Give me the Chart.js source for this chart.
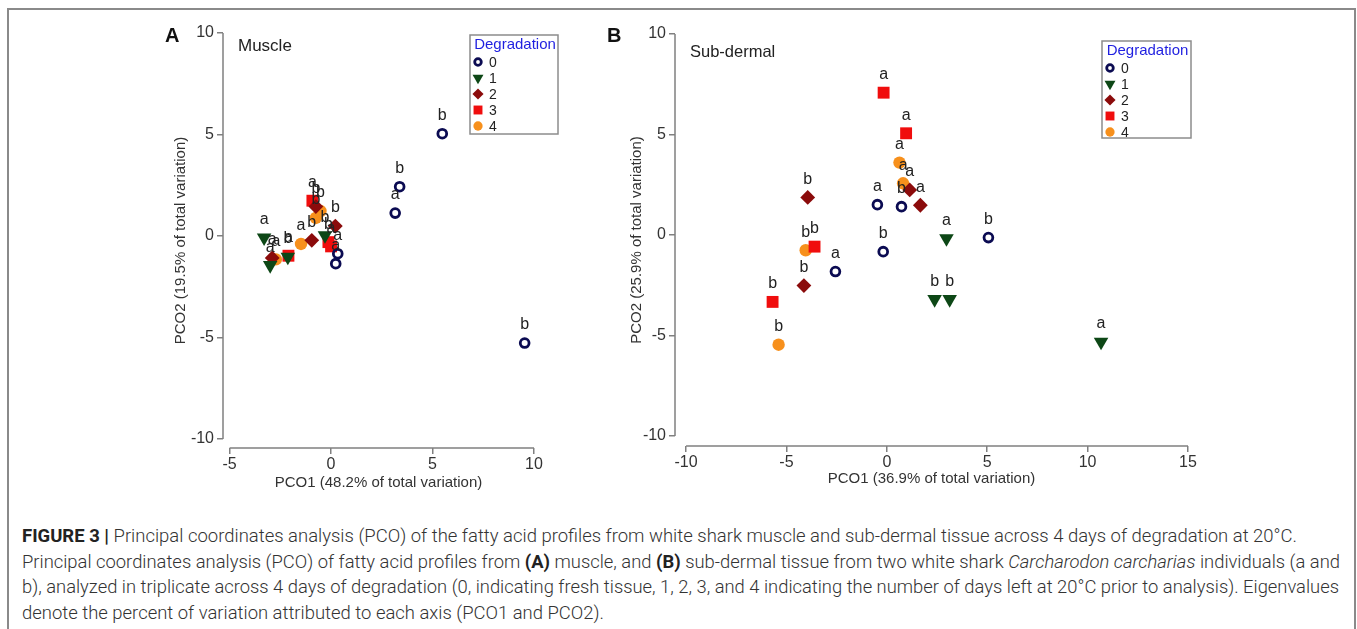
<!doctype html>
<html lang="en">
<head>
<meta charset="utf-8">
<title>Figure 3 - PCO of fatty acid profiles</title>
<script src="https://cdn.jsdelivr.net/npm/chart.js@4/dist/chart.umd.min.js"></script>
<style>
  body { margin: 0; background: #fff; width: 1357px; height: 629px; overflow: hidden; position: relative;
         font-family: Arial, "Liberation Sans", sans-serif; }
  .frame { position: absolute; left: 7px; top: 8px; width: 1349px; height: 700px; box-sizing: border-box;
           border: 2px solid #8a8a8a; border-bottom: none; }
  .panel { position: absolute; top: 20px; width: 420px; height: 480px; }
  #panelA { left: 150px; width: 420px; }
  #panelB { left: 600px; width: 620px; }
  .letter { position: absolute; font-weight: bold; font-size: 20px; color: #111; }
  .tissue { position: absolute; font-size: 17px; color: #222; }
  .caption { position: absolute; left: 22px; top: 523px; font-family: Roboto, "Liberation Sans", sans-serif;
             font-weight: 300; font-size: 18px; color: #333; }
  .caption div { width: max-content; height: 25.5px; line-height: 25.5px; white-space: nowrap; transform-origin: left center; }
  .caption b { font-weight: 700; color: #222; }
</style>
</head>
<body>
<div class="frame"></div>

<div class="panel" id="panelA"><canvas id="muscle"></canvas></div>
<div class="panel" id="panelB"><canvas id="subdermal"></canvas></div>

<div class="letter" style="left:165px; top:24px;">A</div>
<div class="letter" style="left:607px; top:24px;">B</div>
<div class="tissue" style="left:238px; top:36px;">Muscle</div>
<div class="tissue" style="left:690px; top:42px; font-size:16.5px;">Sub-dermal</div>

<div class="caption">
  <div data-w="1275"><b>FIGURE 3 |</b> Principal coordinates analysis (PCO) of the fatty acid profiles from white shark muscle and sub-dermal tissue across 4 days of degradation at 20°C.</div>
  <div data-w="1318">Principal coordinates analysis (PCO) of fatty acid profiles from <b>(A)</b> muscle, and <b>(B)</b> sub-dermal tissue from two white shark <i>Carcharodon carcharias</i> individuals (a and</div>
  <div data-w="1317">b), analyzed in triplicate across 4 days of degradation (0, indicating fresh tissue, 1, 2, 3, and 4 indicating the number of days left at 20°C prior to analysis). Eigenvalues</div>
  <div data-w="582">denote the percent of variation attributed to each axis (PCO1 and PCO2).</div>
</div>

<script>
// degradation days (legend groups)
var days = ['0', '1', '2', '3', '4'];

// ---- A: muscle ----
var muscle0X = [5.48, 3.38, 3.16, 9.54, 0.33, 0.23];
var muscle0Y = [5.04, 2.43, 1.13, -5.27, -0.87, -1.36];
var muscle0Ind = ['b', 'b', 'a', 'b', 'a', 'a'];
var muscle1X = [-3.30, -3.00, -0.30, -2.13];
var muscle1Y = [-0.08, -1.44, 0.03, -1.03];
var muscle1Ind = ['a', 'a', 'b', 'b'];
var muscle2X = [-0.95, 0.21, -2.90, -0.75];
var muscle2Y = [-0.21, 0.49, -1.08, 1.45];
var muscle2Ind = ['b', 'b', 'a', 'b'];
var muscle3X = [-0.92, -2.10, -0.13, 0.00];
var muscle3Y = [1.74, -0.97, -0.30, -0.51];
var muscle3Ind = ['a', 'a', 'b', 'a'];
var muscle4X = [-1.48, -2.72, -0.75, -0.52];
var muscle4Y = [-0.39, -1.15, 0.89, 1.23];
var muscle4Ind = ['a', 'a', 'b', 'b'];

// ---- B: sub-dermal ----
var sub0X = [-0.47, 0.73, -0.18, -2.56, 5.06];
var sub0Y = [1.51, 1.41, -0.83, -1.82, -0.13];
var sub0Ind = ['a', 'b', 'b', 'a', 'b'];
var sub1X = [2.97, 2.38, 3.13, 10.67];
var sub1Y = [-0.17, -3.20, -3.20, -5.32];
var sub1Ind = ['a', 'b', 'b', 'a'];
var sub2X = [-3.94, -4.13, 1.14, 1.67];
var sub2Y = [1.87, -2.52, 2.24, 1.48];
var sub2Ind = ['b', 'b', 'a', 'a'];
var sub3X = [-0.16, 0.96, -3.60, -5.69];
var sub3Y = [7.08, 5.06, -0.58, -3.33];
var sub3Ind = ['a', 'a', 'b', 'b'];
var sub4X = [0.63, 0.81, -4.04, -5.39];
var sub4Y = [3.60, 2.57, -0.76, -5.46];
var sub4Ind = ['a', 'a', 'b', 'b'];

// axis ticks
var muscleXTicks = [-5, 0, 5, 10];
var subXTicks = [-10, -5, 0, 5, 10, 15];
var yTicks = [-10, -5, 0, 5, 10];

// marker look per degradation day
var markers = [
  { pointStyle: 'circle',   radius: 4.4, rotation: 0,   fill: 'rgba(0,0,0,0)', stroke: '#0b0b52', bw: 2.8 },
  { pointStyle: 'triangle', radius: 8.4, rotation: 180, fill: '#0d4716', stroke: '#0d4716', bw: 0 },
  { pointStyle: 'rectRot',  radius: 7.4, rotation: 0,   fill: '#8b0b0b', stroke: '#8b0b0b', bw: 0 },
  { pointStyle: 'rect',     radius: 8.4, rotation: 0,   fill: '#f00d0d', stroke: '#f00d0d', bw: 0 },
  { pointStyle: 'circle',   radius: 6.2, rotation: 0,   fill: '#f7901c', stroke: '#f7901c', bw: 0 }
];

var FONT = 'Arial, "Liberation Sans", sans-serif';

function makeSets(xs, ys, inds) {
  return days.map(function (d, g) {
    var m = markers[g];
    return {
      label: d,
      data: xs[g].map(function (x, i) { return { x: x, y: ys[g][i] }; }),
      inds: inds[g],
      pointStyle: m.pointStyle,
      pointRadius: m.radius,
      pointRotation: m.rotation,
      backgroundColor: m.fill,
      borderColor: m.stroke,
      pointBorderWidth: m.bw,
      showLine: false
    };
  });
}

// letters a / b above each point
var indLabels = {
  id: 'indLabels',
  afterDatasetsDraw: function (chart) {
    var ctx = chart.ctx;
    ctx.save();
    ctx.font = '16px ' + FONT;
    ctx.fillStyle = '#222';
    ctx.textAlign = 'center';
    ctx.textBaseline = 'middle';
    chart.data.datasets.forEach(function (ds, i) {
      chart.getDatasetMeta(i).data.forEach(function (pt, j) {
        ctx.fillText(ds.inds[j], pt.x, pt.y - 18);
      });
    });
    ctx.restore();
  }
};

// axis lines only across the tick range (detached axes)
var axisLines = {
  id: 'axisLines',
  afterDraw: function (chart) {
    var ctx = chart.ctx, a = chart.chartArea;
    var xs = chart.scales.x, ys = chart.scales.y;
    var xt = xs.ticks, yt = ys.ticks;
    ctx.save();
    ctx.strokeStyle = '#808080';
    ctx.lineWidth = 1.5;
    ctx.beginPath();
    ctx.moveTo(xs.getPixelForValue(xt[0].value), a.bottom);
    ctx.lineTo(xs.getPixelForValue(xt[xt.length - 1].value), a.bottom);
    ctx.moveTo(a.left, ys.getPixelForValue(yt[0].value));
    ctx.lineTo(a.left, ys.getPixelForValue(yt[yt.length - 1].value));
    ctx.stroke();
    ctx.restore();
  }
};

// boxed "Degradation" legend
var boxLegend = {
  id: 'boxLegend',
  afterDraw: function (chart, args, opts) {
    var ctx = chart.ctx;
    var L = opts.left, T = opts.top, W = opts.width, H = opts.height;
    ctx.save();
    ctx.strokeStyle = '#8c8c8c';
    ctx.lineWidth = 1.5;
    ctx.strokeRect(L, T, W, H);
    ctx.font = '15px ' + FONT;
    ctx.fillStyle = '#1f1fe0';
    ctx.textAlign = 'center';
    ctx.textBaseline = 'middle';
    ctx.fillText('Degradation', L + W / 2 + 1, T + 10);
    ctx.font = '14px ' + FONT;
    ctx.textAlign = 'left';
    days.forEach(function (d, g) {
      var m = markers[g];
      var y = T + 27 + g * 16;
      ctx.fillStyle = m.fill;
      ctx.strokeStyle = m.stroke;
      ctx.lineWidth = m.bw;
      Chart.helpers.drawPoint(ctx, {
        pointStyle: m.pointStyle,
        rotation: m.rotation,
        radius: m.radius * 0.75,
        borderWidth: m.bw * 0.85
      }, L + 8, y);
      ctx.fillStyle = '#222';
      ctx.fillText(d, L + 19, y + 1);
    });
    ctx.restore();
  }
};

function scatterChart(id, sets, xMin, xMax, xTicks, yMin, yAxisW, xAxisH, pad, xTitle, yTitle, titlePad, legendBox) {
  return new Chart(document.getElementById(id), {
    type: 'scatter',
    data: { datasets: sets },
    options: {
      responsive: true,
      maintainAspectRatio: false,
      animation: false,
      events: [],
      layout: { padding: pad },
      plugins: {
        legend: { display: false },
        tooltip: { enabled: false },
        boxLegend: legendBox
      },
      scales: {
        x: {
          type: 'linear', min: xMin, max: xMax,
          afterBuildTicks: function (s) { s.ticks = xTicks.map(function (v) { return { value: v }; }); },
          afterFit: function (s) { s.height = xAxisH; },
          border: { display: false },
          grid: { drawOnChartArea: false, drawTicks: true, tickLength: 6, color: '#808080', lineWidth: 1.5 },
          ticks: { color: '#333', font: { size: 16, family: FONT }, padding: 1 },
          title: { display: true, text: xTitle, color: '#333', font: { size: 15, family: FONT },
                   padding: { top: 0, bottom: titlePad.x } }
        },
        y: {
          type: 'linear', min: yMin, max: 10,
          afterBuildTicks: function (s) { s.ticks = yTicks.map(function (v) { return { value: v }; }); },
          afterFit: function (s) { s.width = yAxisW; },
          border: { display: false },
          grid: { drawOnChartArea: false, drawTicks: true, tickLength: 6, color: '#808080', lineWidth: 1.5 },
          ticks: { color: '#333', font: { size: 16, family: FONT }, padding: 3 },
          title: { display: true, text: yTitle, color: '#333', font: { size: 15, family: FONT },
                   padding: { top: titlePad.y, bottom: 0 } }
        }
      }
    },
    plugins: [axisLines, indLabels, boxLegend]
  });
}

scatterChart('muscle',
  makeSets([muscle0X, muscle1X, muscle2X, muscle3X, muscle4X],
           [muscle0Y, muscle1Y, muscle2Y, muscle3Y, muscle4Y],
           [muscle0Ind, muscle1Ind, muscle2Ind, muscle3Ind, muscle4Ind]),
  -5.325, 10, muscleXTicks, -10.44, 73, 52,
  { left: 0, top: 13, right: 36, bottom: 0 },
  'PCO1 (48.2% of total variation)', 'PCO2 (19.5% of total variation)',
  { x: 8, y: 22 },
  { left: 320, top: 15, width: 88, height: 99 });

scatterChart('subdermal',
  makeSets([sub0X, sub1X, sub2X, sub3X, sub4X],
           [sub0Y, sub1Y, sub2Y, sub3Y, sub4Y],
           [sub0Ind, sub1Ind, sub2Ind, sub3Ind, sub4Ind]),
  -10.55, 15, subXTicks, -10.5, 75, 54,
  { left: 0, top: 14, right: 32, bottom: 0 },
  'PCO1 (36.9% of total variation)', 'PCO2 (25.9% of total variation)',
  { x: 12, y: 28 },
  { left: 502, top: 21, width: 89, height: 97 });

// fit caption lines to the widths of the printed figure
document.querySelectorAll('.caption div').forEach(function (line) {
  var w = line.getBoundingClientRect().width;
  var target = +line.getAttribute('data-w');
  line.style.transform = 'scaleX(' + (target / w) + ')';
});
</script>
</body>
</html>
